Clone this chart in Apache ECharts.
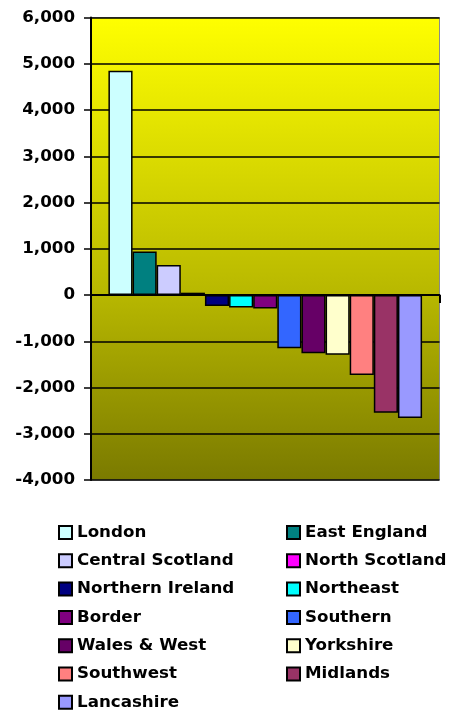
<!DOCTYPE html>
<html>
<head>
<meta charset="utf-8">
<script src="https://cdn.jsdelivr.net/npm/echarts@6/dist/echarts.min.js"></script>
<style>
  html, body { margin: 0; padding: 0; background: #ffffff; }
  #chart { width: 451px; height: 711px; }
</style>
</head>
<body>
<div id="chart"></div>
<script>
// Regional change figures, one bar per region
const regions = ['London', 'East England', 'Central Scotland', 'North Scotland',
  'Northern Ireland', 'Northeast', 'Border', 'Southern', 'Wales & West',
  'Yorkshire', 'Southwest', 'Midlands', 'Lancashire'];
const changes = [4850, 940, 650, 50, -240, -270, -290, -1150, -1260, -1290, -1730, -2545, -2660];

// Value axis range and step
const yMin = -4000;
const yMax = 6000;
const yStep = 1000;

// Fill colour for each region's bar
const palette = ['#CCFFFF', '#008080', '#CCCCFF', '#FF00FF', '#000080', '#00FFFF',
  '#800080', '#3366FF', '#660066', '#FFFFCC', '#FF8080', '#993366', '#9999FF'];

const FONT = '"DejaVu Sans", Verdana, sans-serif';
const textStyle = { fontFamily: FONT, fontWeight: 'bold', fontSize: 16.7, color: '#000', lineHeight: 17 };

const series = regions.map((name, i) => ({
  name: name,
  type: 'bar',
  data: [changes[i]],
  barGap: '0%',
  barCategoryGap: '10%',
  itemStyle: { color: palette[i], borderColor: '#000', borderWidth: 1.5 }
}));

// Two legend columns, filled row by row
const legendBase = {
  orient: 'vertical',
  icon: 'rect',
  padding: 0,
  height: 200,
  itemWidth: 13,
  itemHeight: 13,
  itemGap: 11.3,
  textStyle: textStyle,
  selectedMode: false
};

const chart = echarts.init(document.getElementById('chart'), null, { renderer: 'canvas' });
chart.setOption({
  animation: false,
  backgroundColor: '#ffffff',
  grid: {
    left: 91, right: 11.5, top: 17.5, bottom: 231,
    show: true,
    borderColor: '#8a8a8a',
    borderWidth: 1,
    backgroundColor: {
      type: 'linear', x: 0, y: 0, x2: 0, y2: 1,
      colorStops: [
        { offset: 0, color: '#FFFF00' },
        { offset: 0.58, color: '#BABA00' },
        { offset: 1, color: '#7A7A00' }
      ]
    }
  },
  legend: [
    Object.assign({ left: 58, top: 524, data: regions.filter((_, i) => i % 2 === 0) }, legendBase),
    Object.assign({ left: 286, top: 524, data: regions.filter((_, i) => i % 2 === 1) }, legendBase)
  ],
  xAxis: {
    type: 'category',
    data: ['Change'],
    axisLine: { show: true, onZero: true, lineStyle: { color: '#000', width: 2 } },
    axisTick: { show: true, length: 8, lineStyle: { color: '#000', width: 2 } },
    axisLabel: { show: false },
    splitLine: { show: false }
  },
  yAxis: {
    type: 'value',
    min: yMin,
    max: yMax,
    interval: yStep,
    axisLine: { show: true, lineStyle: { color: '#000', width: 2 } },
    axisTick: { show: true, length: 7, lineStyle: { color: '#000', width: 1.5 } },
    axisLabel: {
      margin: 16,
      fontFamily: FONT, fontWeight: 'bold', fontSize: 16.7, color: '#000',
      formatter: v => v.toLocaleString('en-US')
    },
    splitLine: { show: true, lineStyle: { color: '#000', width: 1.5 } }
  },
  series: series
});
</script>
</body>
</html>
